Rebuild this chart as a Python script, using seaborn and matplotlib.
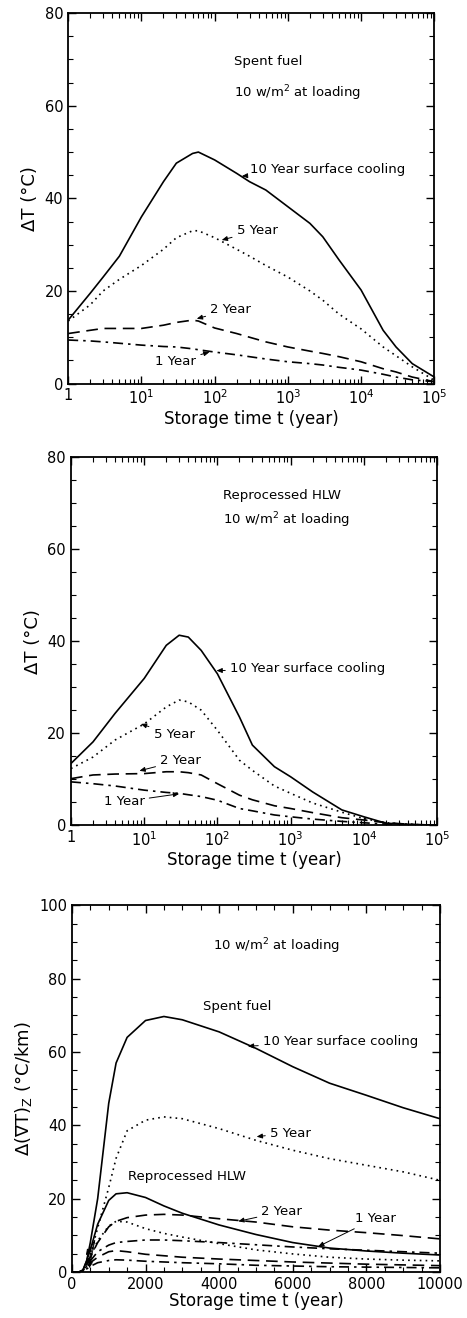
import numpy as np
import pandas as pd
import matplotlib
matplotlib.use("Agg")
import matplotlib.pyplot as plt
import matplotlib.ticker as mticker
import seaborn as sns

# ---------------- data ----------------
# Panel 1: spent fuel, Delta T (C) vs storage time (log)
t_sf = [1, 2, 3, 5, 10, 20, 30, 50, 60, 100, 200, 300, 500, 1000, 2000, 3000,
        5000, 10000, 20000, 30000, 50000, 100000]
sf_10yr = [13.7, 19.5, 23.0, 27.5, 36.0, 43.6, 47.6, 49.7, 50.0, 48.3, 45.4, 43.6,
           41.8, 38.2, 34.6, 31.7, 26.7, 20.2, 11.5, 7.9, 4.3, 1.4]
sf_5yr = [13.5, 17.0, 20.0, 22.5, 25.5, 29.0, 31.5, 33.0, 33.0, 31.5, 29.0, 27.5,
          25.5, 23.0, 20.0, 18.0, 15.0, 11.8, 7.9, 6.0, 3.6, 0.7]
sf_2yr = [10.8, 11.5, 11.9, 11.9, 11.9, 12.6, 13.2, 13.7, 13.5, 12.0, 10.8, 10.0,
          9.0, 7.9, 7.0, 6.5, 5.8, 4.7, 3.2, 2.5, 1.4, 0.4]
sf_1yr = [9.4, 9.2, 9.0, 8.7, 8.3, 8.0, 7.9, 7.5, 7.3, 6.8, 6.2, 5.8, 5.3, 4.7,
          4.3, 4.0, 3.5, 2.9, 2.0, 1.4, 0.8, 0.4]

# Panel 2: reprocessed HLW, Delta T (C) vs storage time (log)
t_hlw = [1, 2, 4, 10, 20, 30, 40, 60, 100, 200, 300, 600, 1000, 2000, 5000,
         10000, 20000, 50000, 100000]
hlw_10yr = [13.4, 18.1, 24.3, 31.9, 39.1, 41.3, 40.9, 38.0, 32.9, 23.5, 17.4,
            12.7, 10.5, 7.2, 3.3, 1.8, 0.4, 0.1, 0.0]
hlw_5yr = [12.3, 14.8, 18.5, 22.0, 25.7, 27.2, 26.8, 25.0, 20.6, 14.1, 11.9, 8.5,
           6.9, 4.8, 2.8, 1.4, 0.5, 0.1, 0.0]
hlw_2yr = [10.1, 10.9, 11.1, 11.2, 11.6, 11.6, 11.4, 10.9, 9.0, 6.5, 5.5, 4.2,
           3.6, 2.7, 1.6, 1.1, 0.5, 0.1, 0.0]
hlw_1yr = [9.4, 9.0, 8.5, 7.6, 7.1, 6.9, 6.6, 6.2, 5.4, 3.6, 3.1, 2.2, 1.8, 1.3,
           0.8, 0.5, 0.2, 0.05, 0.0]

# Panel 3: Delta (grad T)_z (C/km) vs storage time (linear)
t_grad = [0, 200, 300, 400, 500, 700, 1000, 1200, 1500, 2000, 2500, 3000, 4000,
          5000, 6000, 7000, 8000, 9000, 10000]
g_sf_10yr = [0, 0, 0.5, 3.0, 8.0, 20.0, 46.0, 57.0, 64.0, 68.6, 69.7, 68.8, 65.5,
             61.0, 56.0, 51.5, 48.2, 44.8, 41.8]
g_sf_5yr = [0, 0, 0.3, 2.0, 4.5, 12.0, 23.0, 31.0, 38.5, 41.4, 42.3, 41.8, 39.1,
            35.9, 33.2, 30.9, 29.1, 27.3, 25.0]
g_sf_2yr = [0, 0, 0.3, 2.0, 4.0, 8.0, 12.3, 13.8, 14.8, 15.5, 15.7, 15.5, 14.5,
            13.6, 12.3, 11.4, 10.7, 9.9, 9.0]
g_sf_1yr = [0, 0, 0.2, 1.5, 3.0, 5.5, 7.3, 8.0, 8.3, 8.7, 8.7, 8.5, 8.0, 7.4, 6.8,
            6.3, 5.9, 5.5, 5.1]
g_hlw_10yr = [0, 0, 0.5, 3.0, 6.0, 13.0, 19.5, 21.3, 21.6, 20.3, 18.0, 16.0, 12.8,
              10.2, 8.0, 6.5, 5.7, 5.1, 4.6]
g_hlw_5yr = [0, 0, 0.3, 2.0, 4.0, 8.5, 12.5, 13.8, 13.6, 11.8, 10.5, 9.5, 7.7, 6.0,
             4.9, 4.0, 3.5, 3.2, 3.0]
g_hlw_2yr = [0, 0, 0.2, 1.2, 2.5, 4.0, 5.5, 5.8, 5.5, 4.8, 4.4, 4.0, 3.5, 3.1, 2.7,
             2.4, 2.1, 1.9, 1.7]
g_hlw_1yr = [0, 0, 0.1, 0.8, 1.5, 2.5, 3.1, 3.3, 3.2, 2.9, 2.7, 2.5, 2.2, 1.8, 1.6,
             1.4, 1.3, 1.2, 1.1]

log_ticks = [1, 10, 100, 1000, 10000, 100000]
log_ticklabels = ["1", "$10^1$", "$10^2$", "$10^3$", "$10^4$", "$10^5$"]

# ---------------- style ----------------
sns.set_theme(style="ticks")
plt.rcParams["font.family"] = ["DejaVu Sans"]
plt.rcParams["axes.linewidth"] = 1.3
plt.rcParams["xtick.direction"] = "in"
plt.rcParams["ytick.direction"] = "in"
for k in ["text.color", "axes.labelcolor", "xtick.color", "ytick.color",
          "axes.edgecolor", "xtick.labelcolor", "ytick.labelcolor"]:
    plt.rcParams[k] = "black"

STY = {
    "10": "-",
    "5": (0, (1, 2.5)),
    "2": (0, (7, 4)),
    "1": (0, (6, 3, 1.5, 3)),
}

fig = plt.figure(figsize=(4.67, 13.18), dpi=100)
ax1 = fig.add_axes([0.146, 0.709, 0.784, 0.281])
ax2 = fig.add_axes([0.152, 0.374, 0.784, 0.279])
ax3 = fig.add_axes([0.154, 0.035, 0.788, 0.278])


def draw(ax, t, ys):
    for key, y in ys:
        df = pd.DataFrame({"t": t, "v": y})
        sns.lineplot(data=df, x="t", y="v", ax=ax, color="black",
                     linestyle=STY[key], linewidth=1.2, errorbar=None)


def arrow(ax, text, xy, xytext, fs=9.5):
    ax.annotate(text, xy=xy, xytext=xytext, fontsize=fs, va="center", ha="left",
                color="black",
                arrowprops=dict(arrowstyle="-|>,head_length=0.35,head_width=0.15",
                                color="black", lw=0.7, shrinkA=1, shrinkB=0))


def style_log(ax):
    ax.set_xscale("log")
    ax.set_xlim(1, 1e5)
    ax.set_ylim(0, 80)
    ax.set_xticks(log_ticks)
    ax.set_xticklabels(log_ticklabels)
    ax.xaxis.set_minor_locator(mticker.LogLocator(base=10, subs=np.arange(2, 10), numticks=20))
    ax.xaxis.set_minor_formatter(mticker.NullFormatter())
    ax.set_yticks([0, 20, 40, 60, 80])
    ax.yaxis.set_minor_locator(mticker.MultipleLocator(5))
    ax.set_xlabel("Storage time t (year)", fontsize=12, labelpad=2)
    ax.set_ylabel("ΔT (°C)", fontsize=13, labelpad=4)


def common(ax):
    ax.tick_params(which="both", direction="in", top=True, right=True,
                   labelsize=10.5, color="black", labelcolor="black")
    ax.tick_params(which="major", length=6, width=1.0)
    ax.tick_params(which="minor", length=3.5, width=0.8)
    for s in ax.spines.values():
        s.set_color("black")


# Panel 1
draw(ax1, t_sf, [("10", sf_10yr), ("5", sf_5yr), ("2", sf_2yr), ("1", sf_1yr)])
style_log(ax1)
common(ax1)
ax1.text(182, 69.5, "Spent fuel", fontsize=9.5, va="center")
ax1.text(182, 62.8, "10 w/m$^2$ at loading", fontsize=9.5, va="center")
arrow(ax1, "10 Year surface cooling", (235, 44.8), (300, 46.2))
arrow(ax1, "5 Year", (125, 31.0), (200, 33.0))
arrow(ax1, "2 Year", (57, 14.0), (87, 16.0))
arrow(ax1, "1 Year", (85, 6.8), (15.5, 4.7))

# Panel 2
draw(ax2, t_hlw, [("10", hlw_10yr), ("5", hlw_5yr), ("2", hlw_2yr), ("1", hlw_1yr)])
style_log(ax2)
common(ax2)
ax2.text(121, 71.7, "Reprocessed HLW", fontsize=9.5, va="center")
ax2.text(121, 66.3, "10 w/m$^2$ at loading", fontsize=9.5, va="center")
arrow(ax2, "10 Year surface cooling", (97, 33.6), (148, 34.0))
arrow(ax2, "5 Year", (9.0, 22.0), (13.4, 19.6))
arrow(ax2, "2 Year", (8.6, 11.8), (16.5, 14.1))
arrow(ax2, "1 Year", (30, 6.8), (2.8, 5.1))

# Panel 3
draw(ax3, t_grad, [("10", g_sf_10yr), ("5", g_sf_5yr), ("2", g_sf_2yr), ("1", g_sf_1yr),
                   ("10", g_hlw_10yr), ("5", g_hlw_5yr), ("2", g_hlw_2yr), ("1", g_hlw_1yr)])
ax3.set_xlim(0, 10000)
ax3.set_ylim(0, 100)
ax3.set_xticks([0, 2000, 4000, 6000, 8000, 10000])
ax3.xaxis.set_minor_locator(mticker.MultipleLocator(500))
ax3.set_yticks([0, 20, 40, 60, 80, 100])
ax3.yaxis.set_minor_locator(mticker.MultipleLocator(5))
ax3.set_xlabel("Storage time t (year)", fontsize=12, labelpad=0)
ax3.set_ylabel("Δ(∇T)$_{\\mathregular{Z}}$ (°C/km)", fontsize=13, labelpad=4)
common(ax3)
ax3.text(3830, 89, "10 w/m$^2$ at loading", fontsize=9.5, va="center")
ax3.text(3560, 72.3, "Spent fuel", fontsize=9.5, va="center")
ax3.text(1530, 26.0, "Reprocessed HLW", fontsize=9.5, va="center")
arrow(ax3, "10 Year surface cooling", (4780, 61.6), (5190, 62.8))
arrow(ax3, "5 Year", (5020, 36.9), (5380, 37.9))
arrow(ax3, "2 Year", (4520, 13.8), (5150, 16.4))
arrow(ax3, "1 Year", (6690, 6.9), (7690, 14.6))
for tgt in [(380, 4.5), (420, 2.0), (470, 1.0)]:
    ax3.annotate("", xy=tgt, xytext=(620, 8.5),
                 arrowprops=dict(arrowstyle="-|>,head_length=0.3,head_width=0.12",
                                 color="black", lw=0.6, shrinkA=0, shrinkB=0))

fig.savefig("out.png", dpi=100)
